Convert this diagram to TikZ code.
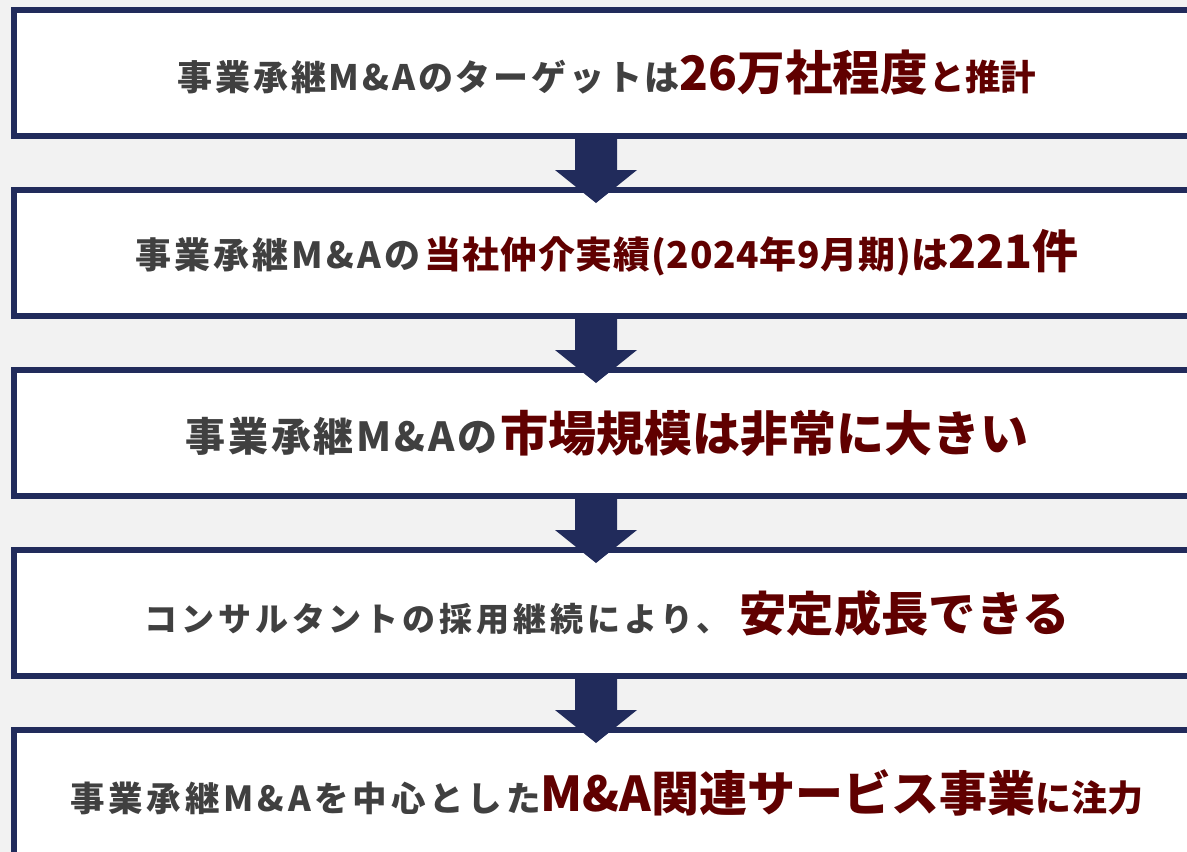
\documentclass[tikz,border=0pt]{standalone}
\usepackage{fontspec}
\setmainfont{Noto Sans CJK JP}
\usetikzlibrary{calc}
\definecolor{navy}{HTML}{212B5B}
\definecolor{bg}{HTML}{F2F2F2}
\definecolor{tgray}{HTML}{404040}
\definecolor{tred}{HTML}{600000}
\newcommand\Gt[3]{{\color{tgray}\bfseries\fontsize{#1}{#1}\selectfont\addfontfeature{LetterSpace=#2}#3}}
\newcommand\Rt[3]{{\color{tred}\bfseries\fontsize{#1}{#1}\selectfont\addfontfeature{LetterSpace=#2}#3}}
\tikzset{
  flowbox/.style={draw=navy, line width=6pt, fill=white, minimum width=1186pt,
    minimum height=126pt, inner sep=0pt, outer sep=0pt, anchor=center},
}
\newcommand\flowarrow[2]{%
  \fill[navy] ($(#1.south -| ax)+(-21,0)$) -- ($(#1.south -| ax)+(-21,-34)$)
    -- ($(#1.south -| ax)+(-41,-34)$) -- ($(#2.north -| ax)+(0,-13)$)
    -- ($(#1.south -| ax)+(41,-34)$) -- ($(#1.south -| ax)+(21,-34)$)
    -- ($(#1.south -| ax)+(21,0)$) -- cycle;}
\begin{document}
\begin{tikzpicture}[x=1pt,y=1pt]
\fill[bg] (0,0) rectangle (1187,-852);
\useasboundingbox (0,0) rectangle (1187,-852);
\coordinate (ax) at (596,0);
\node[flowbox] (b1) at (607,-73) {\Gt{35}{8}{事業承継M\&Aのターゲットは}\Rt{47.5}{0}{26万社程度}\hspace{2pt}\Rt{35.5}{0}{と推計}};
\node[flowbox] (b2) at (607,-253) {\Gt{36}{9}{事業承継M\&Aの}\hspace{4pt}\Rt{37}{2}{当社仲介実績(2024年9月期)は}\Rt{46}{0}{221件}};
\node[flowbox] (b3) at (607,-433) {\Gt{40}{7}{事業承継M\&Aの}\hspace{3pt}\Rt{48}{0}{市場規模は非常に大きい}};
\node[flowbox] (b4) at (607,-613) {\Gt{33}{12}{コンサルタントの採用継続により、}\hspace{10pt}\Rt{47.3}{0}{安定成長できる}};
\node[flowbox] (b5) at (607,-793) {\Gt{34.5}{11}{事業承継M\&Aを中心とした}\Rt{48}{0}{M\&A関連サービス事業}\Rt{36}{0}{に注力}};
\flowarrow{b1}{b2}
\flowarrow{b2}{b3}
\flowarrow{b3}{b4}
\flowarrow{b4}{b5}
\end{tikzpicture}
\end{document}
